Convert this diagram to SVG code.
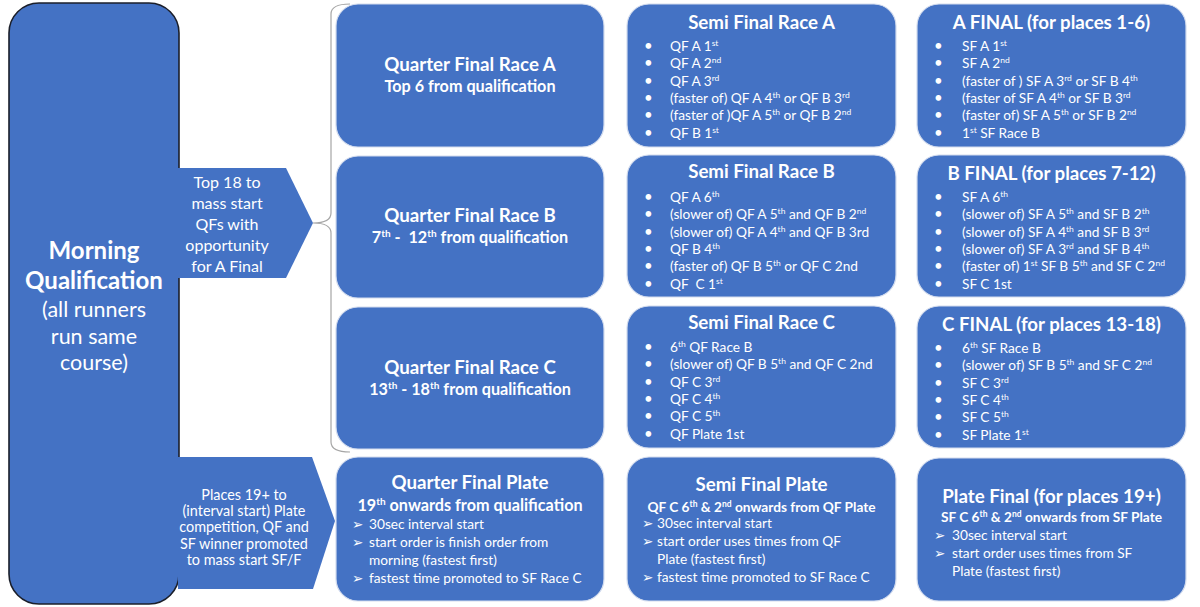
<svg xmlns="http://www.w3.org/2000/svg" width="1200" height="607" viewBox="0 0 1200 607">
<style>
.box{fill:#4472C4;stroke:#d3dcee;stroke-width:1.2}
.main{fill:#4472C4;stroke:#1b1f2a;stroke-width:1.6}
.arrow{fill:#4472C4;stroke:none}
text{font-family:Lato,"Open Sans","Liberation Sans",sans-serif;fill:#ffffff}
.title{font-size:18.7px;font-weight:700;text-anchor:middle}
.sub{font-size:16.2px;font-weight:700;text-anchor:middle}
.psub{font-size:13.7px;font-weight:700;text-anchor:middle}
.body{font-size:13.7px}
.bul{font-size:15px}
.arr{font-family:"DejaVu Sans",sans-serif;font-size:13.5px}
.a1{font-size:16px;text-anchor:middle}
.a2{font-size:14.4px;text-anchor:middle}
.mq{font-size:24px;font-weight:700;text-anchor:middle}
.mq2{font-size:21.5px;text-anchor:middle}
.sup{font-size:0.62em;baseline-shift:super}
.brace{fill:none;stroke:#a6a6a6;stroke-width:1.2}
</style>

<g id="morning-qualification">
<rect class="main" x="9" y="3" width="170" height="601" rx="30"/>
<text class="mq" x="94" y="259">Morning</text>
<text class="mq" x="94" y="289">Qualification</text>
<text class="mq2" x="94" y="317">(all runners</text>
<text class="mq2" x="94" y="344">run same</text>
<text class="mq2" x="94" y="370">course)</text>
</g>

<g id="arrow-top18">
<polygon class="arrow" points="178,168 286,168 313,223 286,278 178,278"/>
<text class="a1" x="227" y="188">Top 18 to</text>
<text class="a1" x="227" y="209">mass start</text>
<text class="a1" x="227" y="230">QFs with</text>
<text class="a1" x="227" y="251">opportunity</text>
<text class="a1" x="227" y="272">for A Final</text>
</g>

<g id="arrow-plate">
<polygon class="arrow" points="178,457 312,457 335,521 313,589 178,589"/>
<text class="a2" x="244" y="500">Places 19+ to</text>
<text class="a2" x="244" y="516">(interval start) Plate</text>
<text class="a2" x="244" y="532">competition, QF and</text>
<text class="a2" x="244" y="549">SF winner promoted</text>
<text class="a2" x="244" y="565">to mass start SF/F</text>
</g>

<g id="connectors">
<path class="brace" d="M 350 4 Q 331 4 331 14 L 331 213 Q 331 223 313 223 Q 331 223 331 233 L 331 442 Q 331 452 350 452"/>
</g>

<g id="qf-a">
<rect class="box" x="336" y="4" width="268" height="143" rx="22"/>
<text class="title" x="470" y="71">Quarter Final Race A</text>
<text class="sub" x="470" y="92">Top 6 from qualification</text>
</g>
<g id="qf-b">
<rect class="box" x="336" y="156" width="268" height="142" rx="22"/>
<text class="title" x="470" y="222">Quarter Final Race B</text>
<text class="sub" x="470" y="243" style="white-space:pre">7<tspan class="sup">th</tspan> -  12<tspan class="sup">th</tspan> from qualification</text>
</g>
<g id="qf-c">
<rect class="box" x="336" y="307" width="268" height="142" rx="22"/>
<text class="title" x="470" y="374">Quarter Final Race C</text>
<text class="sub" x="470" y="395">13<tspan class="sup">th</tspan> - 18<tspan class="sup">th</tspan> from qualification</text>
</g>
<g id="qf-plate">
<rect class="box" x="336" y="457" width="268" height="144" rx="22"/>
<text class="title" x="470" y="489">Quarter Final Plate</text>
<text class="sub" x="470" y="511">19<tspan class="sup">th</tspan> onwards from qualification</text>
<text class="arr" x="352" y="529">➢</text><text class="body" x="369" y="529">30sec interval start</text>
<text class="arr" x="352" y="547">➢</text><text class="body" x="369" y="547">start order is finish order from</text>
<text class="body" x="369" y="565">morning (fastest first)</text>
<text class="arr" x="352" y="583">➢</text><text class="body" x="369" y="583">fastest time promoted to SF Race C</text>
</g>

<g id="sf-a">
<rect class="box" x="627" y="4" width="269" height="143" rx="22"/>
<text class="title" x="761.5" y="29">Semi Final Race A</text>
<text class="bul" x="644" y="51">•</text><text class="body" x="670" y="51">QF A 1<tspan class="sup">st</tspan></text>
<text class="bul" x="644" y="68.3">•</text><text class="body" x="670" y="68.3">QF A 2<tspan class="sup">nd</tspan></text>
<text class="bul" x="644" y="85.6">•</text><text class="body" x="670" y="85.6">QF A 3<tspan class="sup">rd</tspan></text>
<text class="bul" x="644" y="102.9">•</text><text class="body" x="670" y="102.9">(faster of) QF A 4<tspan class="sup">th</tspan> or QF B 3<tspan class="sup">rd</tspan></text>
<text class="bul" x="644" y="120.2">•</text><text class="body" x="670" y="120.2">(faster of )QF A 5<tspan class="sup">th</tspan> or QF B 2<tspan class="sup">nd</tspan></text>
<text class="bul" x="644" y="137.5">•</text><text class="body" x="670" y="137.5">QF B 1<tspan class="sup">st</tspan></text>
</g>
<g id="sf-b">
<rect class="box" x="627" y="155" width="269" height="142" rx="22"/>
<text class="title" x="761.5" y="178">Semi Final Race B</text>
<text class="bul" x="644" y="202">•</text><text class="body" x="670" y="202">QF A 6<tspan class="sup">th</tspan></text>
<text class="bul" x="644" y="219.3">•</text><text class="body" x="670" y="219.3">(slower of) QF A 5<tspan class="sup">th</tspan> and QF B 2<tspan class="sup">nd</tspan></text>
<text class="bul" x="644" y="236.6">•</text><text class="body" x="670" y="236.6">(slower of) QF A 4<tspan class="sup">th</tspan> and QF B 3rd</text>
<text class="bul" x="644" y="253.9">•</text><text class="body" x="670" y="253.9">QF B 4<tspan class="sup">th</tspan></text>
<text class="bul" x="644" y="271.2">•</text><text class="body" x="670" y="271.2">(faster of) QF B 5<tspan class="sup">th</tspan> or QF C 2nd</text>
<text class="bul" x="644" y="288.5">•</text><text class="body" x="670" y="288.5" style="white-space:pre">QF  C 1<tspan class="sup">st</tspan></text>
</g>
<g id="sf-c">
<rect class="box" x="627" y="306" width="269" height="142" rx="22"/>
<text class="title" x="761.5" y="329">Semi Final Race C</text>
<text class="bul" x="644" y="352">•</text><text class="body" x="670" y="352">6<tspan class="sup">th</tspan> QF Race B</text>
<text class="bul" x="644" y="369.3">•</text><text class="body" x="670" y="369.3">(slower of) QF B 5<tspan class="sup">th</tspan> and QF C 2nd</text>
<text class="bul" x="644" y="386.6">•</text><text class="body" x="670" y="386.6">QF C 3<tspan class="sup">rd</tspan></text>
<text class="bul" x="644" y="403.9">•</text><text class="body" x="670" y="403.9">QF C 4<tspan class="sup">th</tspan></text>
<text class="bul" x="644" y="421.2">•</text><text class="body" x="670" y="421.2">QF C 5<tspan class="sup">th</tspan></text>
<text class="bul" x="644" y="438.5">•</text><text class="body" x="670" y="438.5">QF Plate 1st</text>
</g>
<g id="sf-plate">
<rect class="box" x="627" y="457" width="269" height="144" rx="22"/>
<text class="title" x="761.5" y="491">Semi Final Plate</text>
<text class="psub" x="761.5" y="512">QF C 6<tspan class="sup">th</tspan> &amp; 2<tspan class="sup">nd</tspan> onwards from QF Plate</text>
<text class="arr" x="642" y="528">➢</text><text class="body" x="657" y="528">30sec interval start</text>
<text class="arr" x="642" y="546">➢</text><text class="body" x="657" y="546">start order uses times from QF</text>
<text class="body" x="657" y="564">Plate (fastest first)</text>
<text class="arr" x="642" y="582">➢</text><text class="body" x="657" y="582">fastest time promoted to SF Race C</text>
</g>

<g id="final-a">
<rect class="box" x="917" y="4" width="269" height="143" rx="22"/>
<text class="title" x="1051.5" y="29">A FINAL (for places 1-6)</text>
<text class="bul" x="934" y="51">•</text><text class="body" x="962" y="51">SF A 1<tspan class="sup">st</tspan></text>
<text class="bul" x="934" y="68.3">•</text><text class="body" x="962" y="68.3">SF A 2<tspan class="sup">nd</tspan></text>
<text class="bul" x="934" y="85.6">•</text><text class="body" x="962" y="85.6">(faster of ) SF A 3<tspan class="sup">rd</tspan> or SF B 4<tspan class="sup">th</tspan></text>
<text class="bul" x="934" y="102.9">•</text><text class="body" x="962" y="102.9">(faster of SF A 4<tspan class="sup">th</tspan> or SF B 3<tspan class="sup">rd</tspan></text>
<text class="bul" x="934" y="120.2">•</text><text class="body" x="962" y="120.2">(faster of) SF A 5<tspan class="sup">th</tspan> or SF B 2<tspan class="sup">nd</tspan></text>
<text class="bul" x="934" y="137.5">•</text><text class="body" x="962" y="137.5">1<tspan class="sup">st</tspan> SF Race B</text>
</g>
<g id="final-b">
<rect class="box" x="917" y="155" width="269" height="142" rx="22"/>
<text class="title" x="1051.5" y="180">B FINAL (for places 7-12)</text>
<text class="bul" x="934" y="202">•</text><text class="body" x="962" y="202">SF A 6<tspan class="sup">th</tspan></text>
<text class="bul" x="934" y="219.3">•</text><text class="body" x="962" y="219.3">(slower of) SF A 5<tspan class="sup">th</tspan> and SF B 2<tspan class="sup">th</tspan></text>
<text class="bul" x="934" y="236.6">•</text><text class="body" x="962" y="236.6">(slower of) SF A 4<tspan class="sup">th</tspan> and SF B 3<tspan class="sup">rd</tspan></text>
<text class="bul" x="934" y="253.9">•</text><text class="body" x="962" y="253.9">(slower of) SF A 3<tspan class="sup">rd</tspan> and SF B 4<tspan class="sup">th</tspan></text>
<text class="bul" x="934" y="271.2">•</text><text class="body" x="962" y="271.2">(faster of) 1<tspan class="sup">st</tspan> SF B 5<tspan class="sup">th</tspan> and SF C 2<tspan class="sup">nd</tspan></text>
<text class="bul" x="934" y="288.5">•</text><text class="body" x="962" y="288.5">SF C 1st</text>
</g>
<g id="final-c">
<rect class="box" x="917" y="306" width="269" height="142" rx="22"/>
<text class="title" x="1051.5" y="331">C FINAL (for places 13-18)</text>
<text class="bul" x="934" y="353">•</text><text class="body" x="962" y="353">6<tspan class="sup">th</tspan> SF Race B</text>
<text class="bul" x="934" y="370.3">•</text><text class="body" x="962" y="370.3">(slower of) SF B 5<tspan class="sup">th</tspan> and SF C 2<tspan class="sup">nd</tspan></text>
<text class="bul" x="934" y="387.6">•</text><text class="body" x="962" y="387.6">SF C 3<tspan class="sup">rd</tspan></text>
<text class="bul" x="934" y="404.9">•</text><text class="body" x="962" y="404.9">SF C 4<tspan class="sup">th</tspan></text>
<text class="bul" x="934" y="422.2">•</text><text class="body" x="962" y="422.2">SF C 5<tspan class="sup">th</tspan></text>
<text class="bul" x="934" y="439.5">•</text><text class="body" x="962" y="439.5">SF Plate 1<tspan class="sup">st</tspan></text>
</g>
<g id="final-plate">
<rect class="box" x="917" y="458" width="269" height="143" rx="22"/>
<text class="title" x="1051.5" y="503">Plate Final (for places 19+)</text>
<text class="psub" x="1051.5" y="522">SF C 6<tspan class="sup">th</tspan> &amp; 2<tspan class="sup">nd</tspan> onwards from SF Plate</text>
<text class="arr" x="934" y="540">➢</text><text class="body" x="952" y="540">30sec interval start</text>
<text class="arr" x="934" y="558">➢</text><text class="body" x="952" y="558">start order uses times from SF</text>
<text class="body" x="952" y="576">Plate (fastest first)</text>
</g>
</svg>
